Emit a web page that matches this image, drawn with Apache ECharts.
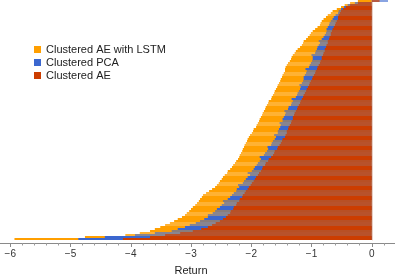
<!DOCTYPE html>
<html><head><meta charset="utf-8">
<script src="https://cdn.jsdelivr.net/npm/echarts@6/dist/echarts.min.js"></script>
<style>html,body{margin:0;padding:0;background:#fff}#c{width:395px;height:277px}</style>
</head><body><div id="c"></div><script>
const seriesNames = ['Clustered AE with LSTM', 'Clustered PCA', 'Clustered AE'];
// sorted returns, bottom bar first
const aeLstm = [
-5.93,-4.76,-4.09,-3.85,-3.68,-3.60,-3.51,-3.43,-3.35,-3.28,
-3.22,-3.15,-3.10,-3.07,-3.03,-3.00,-2.97,-2.93,-2.90,-2.87,
-2.85,-2.82,-2.80,-2.75,-2.70,-2.65,-2.60,-2.57,-2.54,-2.52,
-2.49,-2.47,-2.44,-2.40,-2.39,-2.35,-2.32,-2.30,-2.27,-2.25,
-2.22,-2.20,-2.19,-2.17,-2.15,-2.14,-2.12,-2.11,-2.09,-2.07,
-2.06,-2.04,-2.02,-1.99,-1.97,-1.96,-1.92,-1.91,-1.89,-1.87,
-1.86,-1.84,-1.82,-1.81,-1.79,-1.77,-1.76,-1.74,-1.72,-1.71,
-1.67,-1.66,-1.64,-1.62,-1.61,-1.59,-1.57,-1.56,-1.54,-1.52,
-1.51,-1.49,-1.48,-1.46,-1.44,-1.44,-1.43,-1.41,-1.39,-1.36,
-1.34,-1.33,-1.31,-1.28,-1.26,-1.23,-1.19,-1.16,-1.14,-1.13,
-1.09,-1.06,-1.03,-1.01,-0.98,-0.94,-0.90,-0.86,-0.85,-0.83,
-0.80,-0.76,-0.73,-0.68,-0.65,-0.58,-0.51,-0.45,-0.36,-0.23];
const pca = [
-4.87,-4.43,-3.93,-3.60,-3.32,-3.22,-3.10,-3.02,-2.92,-2.85,
-2.78,-2.72,-2.72,-2.64,-2.60,-2.57,-2.52,-2.49,-2.45,-2.47,
-2.39,-2.35,-2.32,-2.29,-2.25,-2.24,-2.20,-2.22,-2.14,-2.12,
-2.09,-2.06,-2.02,-2.06,-1.99,-1.96,-1.94,-1.91,-1.89,-1.86,
-1.84,-1.86,-1.79,-1.77,-1.74,-1.72,-1.73,-1.67,-1.66,-1.64,
-1.61,-1.59,-1.62,-1.56,-1.56,-1.54,-1.52,-1.51,-1.53,-1.48,
-1.48,-1.46,-1.44,-1.43,-1.45,-1.39,-1.38,-1.34,-1.33,-1.31,
-1.33,-1.26,-1.24,-1.23,-1.21,-1.19,-1.18,-1.20,-1.16,-1.14,
-1.13,-1.13,-1.11,-1.09,-1.08,-1.10,-1.04,-1.03,-1.01,-0.99,
-0.98,-0.98,-1.00,-0.94,-0.93,-0.91,-0.90,-0.88,-0.86,-0.88,
-0.83,-0.80,-0.78,-0.76,-0.75,-0.75,-0.73,-0.71,-0.70,-0.68,
-0.65,-0.63,-0.60,-0.56,-0.55,-0.51,-0.46,-0.40,-0.28,0.27];
const ae = [
-4.13,-3.68,-3.43,-3.18,-2.97,-2.83,-2.72,-2.65,-2.59,-2.52,
-2.47,-2.42,-2.39,-2.35,-2.34,-2.30,-2.29,-2.25,-2.24,-2.20,
-2.19,-2.15,-2.14,-2.11,-2.09,-2.06,-2.04,-2.01,-1.99,-1.96,
-1.94,-1.92,-1.89,-1.87,-1.84,-1.82,-1.81,-1.77,-1.76,-1.72,
-1.71,-1.67,-1.64,-1.62,-1.61,-1.57,-1.56,-1.53,-1.51,-1.49,
-1.48,-1.44,-1.43,-1.41,-1.41,-1.39,-1.38,-1.36,-1.34,-1.33,
-1.31,-1.31,-1.29,-1.28,-1.26,-1.24,-1.23,-1.21,-1.19,-1.18,
-1.16,-1.14,-1.13,-1.11,-1.09,-1.08,-1.06,-1.04,-1.03,-1.01,
-0.99,-0.98,-0.96,-0.94,-0.93,-0.91,-0.90,-0.88,-0.86,-0.85,
-0.83,-0.83,-0.81,-0.80,-0.78,-0.78,-0.76,-0.75,-0.73,-0.73,
-0.71,-0.70,-0.68,-0.68,-0.66,-0.65,-0.63,-0.61,-0.60,-0.58,
-0.56,-0.56,-0.55,-0.53,-0.51,-0.48,-0.43,-0.36,-0.23,0.13];
const ranks = aeLstm.map((_, i) => String(i + 1));

const ORANGE = '#ff9f00', BLUE = '#3b67cf', RED = '#cc3d00';
function banded(values, full, faded, isFaded) {
  return values.map((v, i) => ({ value: v, itemStyle: { color: isFaded(i) ? faded : full } }));
}
const chart = echarts.init(document.getElementById('c'), null, { renderer: 'canvas' });
const FONT = '"Liberation Sans", Arial, sans-serif';
const barCommon = { type: 'bar', barCategoryGap: '0%', barGap: '-100%', silent: true };
chart.setOption({
  animation: false,
  textStyle: { fontFamily: FONT },
  grid: { left: -50, right: -37, top: 0, bottom: 37, containLabel: false, outerBoundsMode: 'none' },
  legend: {
    orient: 'vertical', left: 34, top: 44, padding: 0,
    itemWidth: 7, itemHeight: 7, itemGap: 2, icon: 'rect',
    textStyle: { fontSize: 11, color: '#222', lineHeight: 11, fontFamily: FONT },
    data: seriesNames
  },
  xAxis: {
    type: 'value', min: -7, max: 1, interval: 1, offset: 3,
    name: 'Return', nameLocation: 'middle', nameGap: 22,
    nameTextStyle: { fontSize: 11, color: '#222', fontFamily: FONT },
    axisLine: { show: true, lineStyle: { color: '#8a8a8a', width: 1 } },
    axisTick: { show: true, length: 4, lineStyle: { color: '#8a8a8a' } },
    minorTick: { show: true, splitNumber: 5, length: 2.5, lineStyle: { color: '#9a9a9a' } },
    splitLine: { show: false },
    axisLabel: { fontSize: 10, color: '#333', margin: 6, fontFamily: FONT,
      formatter: v => v < 0 ? '\u2212' + Math.abs(v) : String(v) }
  },
  yAxis: {
    type: 'category', data: ranks,
    axisLine: { show: true, onZero: true, lineStyle: { color: '#e8cfc6' } },
    axisTick: { show: false }, axisLabel: { show: false }, splitLine: { show: false }
  },
  series: [
    Object.assign({ name: seriesNames[0], itemStyle: { color: ORANGE },
      data: banded(aeLstm, ORANGE, 'rgba(255,159,0,0.8)', i => i % 5 === 2 || i % 5 === 3) }, barCommon),
    Object.assign({ name: seriesNames[1], itemStyle: { color: BLUE },
      data: banded(pca, BLUE, 'rgba(59,103,207,0.6)', i => i % 5 >= 2) }, barCommon),
    Object.assign({ name: seriesNames[2], itemStyle: { color: RED },
      data: banded(ae, RED, 'rgba(204,61,0,0.7)', i => i % 5 >= 2) }, barCommon)
  ]
});
</script></body></html>
